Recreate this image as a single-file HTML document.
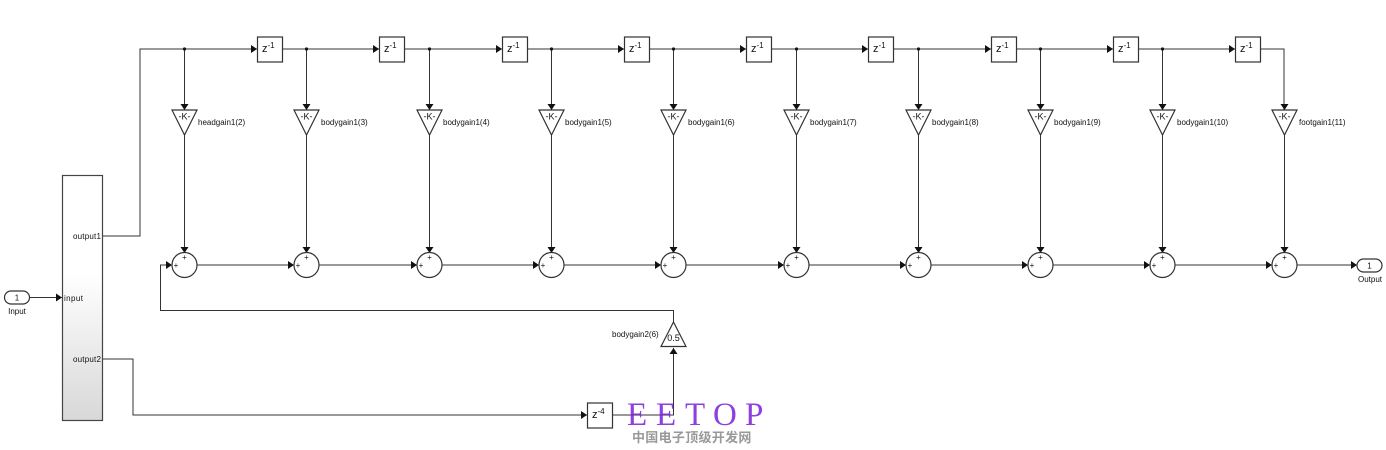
<!DOCTYPE html>
<html><head><meta charset="utf-8"><style>
html,body{margin:0;padding:0;background:#fff}
svg{display:block}
text{font-family:"Liberation Sans",sans-serif;font-size:8px;fill:#111}
.l{fill:none;stroke:#333;stroke-width:1}
.b{fill:#fff;stroke:#333;stroke-width:1.2}
.a{fill:#111}
</style></head><body>
<svg xmlns="http://www.w3.org/2000/svg" width="1386" height="450" viewBox="0 0 1386 450">
<defs><linearGradient id="g" x1="0" y1="0" x2="0" y2="1"><stop offset="0" stop-color="#fff"/><stop offset=".4" stop-color="#fff"/><stop offset="1" stop-color="#d8d8d8"/></linearGradient></defs>

<path class="l" d="M103 236H140V49H257M282 49H379M405 49H502M527 49H624M650 49H746M772 49H868M894 49H991M1016 49H1113M1138 49H1235M1260 49H1284V110"/>
<path class="l" d="M184.500 49V110M306.500 49V110M429.500 49V110M551.500 49V110M673.500 49V110M796.500 49V110M918.500 49V110M1040.500 49V110M1162.500 49V110"/>
<path class="l" d="M184.500 135V253M306.500 135V253M429.500 135V253M551.500 135V253M673.500 135V253M796.500 135V253M918.500 135V253M1040.500 135V253M1162.500 135V253M1284.500 135V253"/>
<path class="l" d="M197 265H294M319 265H417M442 265H539M564 265H661M686 265H784M809 265H906M931 265H1028M1053 265H1150M1175 265H1272M1297 265H1356"/>
<path class="l" d="M30 297.500H62M103 359H133V415H587M612 415H673.500V348M673.500 322V310.500H160.500V265H171"/>

<g class="a">
<circle cx="184.500" cy="49" r="1.600"/><circle cx="306.500" cy="49" r="1.600"/><circle cx="429.500" cy="49" r="1.600"/><circle cx="551.500" cy="49" r="1.600"/><circle cx="673.500" cy="49" r="1.600"/><circle cx="796.500" cy="49" r="1.600"/><circle cx="918.500" cy="49" r="1.600"/><circle cx="1040.500" cy="49" r="1.600"/><circle cx="1162.500" cy="49" r="1.600"/>
<path d="M251 45l6 4-6 4zM373 45l6 4-6 4zM496 45l6 4-6 4zM618 45l6 4-6 4zM740 45l6 4-6 4zM862 45l6 4-6 4zM985 45l6 4-6 4zM1107 45l6 4-6 4zM1229 45l6 4-6 4z"/>
<path d="M180.500 104h8l-4 6zM302.500 104h8l-4 6zM425.500 104h8l-4 6zM547.500 104h8l-4 6zM669.500 104h8l-4 6zM792.500 104h8l-4 6zM914.500 104h8l-4 6zM1036.500 104h8l-4 6zM1158.500 104h8l-4 6zM1280.500 104h8l-4 6z"/>
<path d="M180.500 247h8l-4 6zM302.500 247h8l-4 6zM425.500 247h8l-4 6zM547.500 247h8l-4 6zM669.500 247h8l-4 6zM792.500 247h8l-4 6zM914.500 247h8l-4 6zM1036.500 247h8l-4 6zM1158.500 247h8l-4 6zM1280.500 247h8l-4 6z"/>
<path d="M166 261l6 4-6 4zM288 261l6 4-6 4zM411 261l6 4-6 4zM533 261l6 4-6 4zM655 261l6 4-6 4zM778 261l6 4-6 4zM900 261l6 4-6 4zM1022 261l6 4-6 4zM1144 261l6 4-6 4zM1266 261l6 4-6 4zM1351 261l6 4-6 4z"/>
<path d="M56 293.500l6 4-6 4zM581 411l6 4-6 4zM669.500 354h8l-4-6z"/>
</g>

<rect x="62.500" y="175.500" width="40" height="245" fill="url(#g)" stroke="#444" stroke-width="1.200"/>
<text x="73" y="239" style="letter-spacing:.2px">output1</text>
<text x="64" y="301" style="letter-spacing:.4px">input</text>
<text x="73" y="362" style="letter-spacing:.2px">output2</text>

<rect x="4.500" y="291" width="25" height="13" rx="6.500" class="b"/>
<text x="17" y="300.500" text-anchor="middle">1</text>
<text x="17" y="314" text-anchor="middle">Input</text>
<rect x="1357" y="259" width="25" height="13" rx="6.500" class="b"/>
<text x="1369.500" y="268.500" text-anchor="middle">1</text>
<text x="1370" y="282" text-anchor="middle">Output</text>

<g class="b">
<rect x="257.500" y="37" width="25" height="25"/><rect x="379.500" y="37" width="25" height="25"/><rect x="502.500" y="37" width="25" height="25"/><rect x="624.500" y="37" width="25" height="25"/><rect x="746.500" y="37" width="25" height="25"/><rect x="868.500" y="37" width="25" height="25"/><rect x="991.500" y="37" width="25" height="25"/><rect x="1113.500" y="37" width="25" height="25"/><rect x="1235.500" y="37" width="25" height="25"/><rect x="587.500" y="403" width="25" height="25"/>
<path d="M172 110h25l-12.500 25zM294 110h25l-12.500 25zM417 110h25l-12.500 25zM539 110h25l-12.500 25zM661 110h25l-12.500 25zM784 110h25l-12.500 25zM906 110h25l-12.500 25zM1028 110h25l-12.500 25zM1150 110h25l-12.500 25zM1272 110h25l-12.500 25z"/>
<path d="M673.500 322l12.500 24.500h-25z"/>
<circle cx="184.500" cy="265" r="12.500"/><circle cx="306.500" cy="265" r="12.500"/><circle cx="429.500" cy="265" r="12.500"/><circle cx="551.500" cy="265" r="12.500"/><circle cx="673.500" cy="265" r="12.500"/><circle cx="796.500" cy="265" r="12.500"/><circle cx="918.500" cy="265" r="12.500"/><circle cx="1040.500" cy="265" r="12.500"/><circle cx="1162.500" cy="265" r="12.500"/><circle cx="1284.500" cy="265" r="12.500"/>
</g>

<g>
<text x="262" y="52" style="font-size:11px">z<tspan dy="-4" style="font-size:8px">-1</tspan></text>
<text x="384" y="52" style="font-size:11px">z<tspan dy="-4" style="font-size:8px">-1</tspan></text>
<text x="507" y="52" style="font-size:11px">z<tspan dy="-4" style="font-size:8px">-1</tspan></text>
<text x="629" y="52" style="font-size:11px">z<tspan dy="-4" style="font-size:8px">-1</tspan></text>
<text x="751" y="52" style="font-size:11px">z<tspan dy="-4" style="font-size:8px">-1</tspan></text>
<text x="873" y="52" style="font-size:11px">z<tspan dy="-4" style="font-size:8px">-1</tspan></text>
<text x="996" y="52" style="font-size:11px">z<tspan dy="-4" style="font-size:8px">-1</tspan></text>
<text x="1118" y="52" style="font-size:11px">z<tspan dy="-4" style="font-size:8px">-1</tspan></text>
<text x="1240" y="52" style="font-size:11px">z<tspan dy="-4" style="font-size:8px">-1</tspan></text>
<text x="592" y="418" style="font-size:11px">z<tspan dy="-4" style="font-size:8px">-4</tspan></text>
</g>

<g>
<text x="184.500" y="119.500" text-anchor="middle" style="font-size:9px">-K-</text>
<text x="306.500" y="119.500" text-anchor="middle" style="font-size:9px">-K-</text>
<text x="429.500" y="119.500" text-anchor="middle" style="font-size:9px">-K-</text>
<text x="551.500" y="119.500" text-anchor="middle" style="font-size:9px">-K-</text>
<text x="673.500" y="119.500" text-anchor="middle" style="font-size:9px">-K-</text>
<text x="796.500" y="119.500" text-anchor="middle" style="font-size:9px">-K-</text>
<text x="918.500" y="119.500" text-anchor="middle" style="font-size:9px">-K-</text>
<text x="1040.500" y="119.500" text-anchor="middle" style="font-size:9px">-K-</text>
<text x="1162.500" y="119.500" text-anchor="middle" style="font-size:9px">-K-</text>
<text x="1284.500" y="119.500" text-anchor="middle" style="font-size:9px">-K-</text>
<text x="673.500" y="341" text-anchor="middle" style="font-size:9px">0.5</text>
</g>

<text x="198" y="125">headgain1(2)</text>
<text x="321" y="125">bodygain1(3)</text>
<text x="443" y="125">bodygain1(4)</text>
<text x="565" y="125">bodygain1(5)</text>
<text x="688" y="125">bodygain1(6)</text>
<text x="810" y="125">bodygain1(7)</text>
<text x="932" y="125">bodygain1(8)</text>
<text x="1054" y="125">bodygain1(9)</text>
<text x="1177" y="125">bodygain1(10)</text>
<text x="1299" y="125">footgain1(11)</text>
<text x="612" y="337">bodygain2(6)</text>

<g>
<text x="184.500" y="260" text-anchor="middle">+</text><text x="176" y="268" text-anchor="middle">+</text>
<text x="306.500" y="260" text-anchor="middle">+</text><text x="298" y="268" text-anchor="middle">+</text>
<text x="429.500" y="260" text-anchor="middle">+</text><text x="421" y="268" text-anchor="middle">+</text>
<text x="551.500" y="260" text-anchor="middle">+</text><text x="543" y="268" text-anchor="middle">+</text>
<text x="673.500" y="260" text-anchor="middle">+</text><text x="665" y="268" text-anchor="middle">+</text>
<text x="796.500" y="260" text-anchor="middle">+</text><text x="788" y="268" text-anchor="middle">+</text>
<text x="918.500" y="260" text-anchor="middle">+</text><text x="910" y="268" text-anchor="middle">+</text>
<text x="1040.500" y="260" text-anchor="middle">+</text><text x="1032" y="268" text-anchor="middle">+</text>
<text x="1162.500" y="260" text-anchor="middle">+</text><text x="1154" y="268" text-anchor="middle">+</text>
<text x="1284.500" y="260" text-anchor="middle">+</text><text x="1276" y="268" text-anchor="middle">+</text>
</g>

<text x="627 656 685 713 745" y="425" style="font-family:'Liberation Serif',serif;font-size:33px;fill:#7a1fd8;fill-opacity:.85">EETOP</text>
<text x="632" y="442" style="font-family:'Liberation Sans','Noto Sans CJK SC',sans-serif;font-size:13px;font-weight:bold;fill:#999;letter-spacing:.3px">中国电子顶级开发网</text>
</svg>
</body></html>
